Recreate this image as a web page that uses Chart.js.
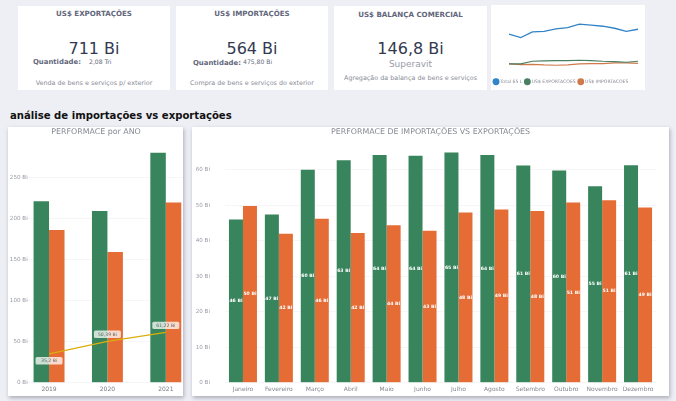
<!DOCTYPE html>
<html>
<head>
<meta charset="utf-8">
<script src="https://cdn.jsdelivr.net/npm/chart.js@4"></script>
<style>
  html, body { margin: 0; padding: 0; }
  body { width: 676px; height: 401px; background: #eeeef5; position: relative; overflow: hidden; font-family: "DejaVu Sans", sans-serif; }
  .card { position: absolute; background: #fff; text-align: center; overflow: hidden; }
  .card div { position: absolute; white-space: nowrap; }
  .kpi-title { left: 0; right: 0; top: 3px; font-size: 7.1px; font-weight: bold; color: #62667a; }
  .kpi-value { left: 0; right: 0; top: 33px; font-size: 16px; color: #333a50; }
  .kpi-qty { top: 52px; font-size: 6.9px; font-weight: bold; color: #62667a; }
  .kpi-qty-val { top: 52px; font-size: 6.1px; color: #666a7c; }
  .kpi-note { left: 0; right: 0; top: 73px; font-size: 6.4px; color: #8a8c98; }
  .kpi-sub { left: 0; right: 0; top: 53px; font-size: 9px; color: #9a9ca6; }
  .shadow { box-shadow: 1px 2px 4px rgba(90,90,110,.45); }
  h2 { position: absolute; left: 10px; top: 110px; margin: 0; font-size: 10.1px; font-weight: bold; color: #111; }
  canvas { position: absolute; }
</style>
</head>
<body>
<div class="card" style="left:18px;top:6px;width:152px;height:84px">
  <div class="kpi-title">US$ EXPORTAÇÕES</div>
  <div class="kpi-value">711 Bi</div>
  <div class="kpi-qty" style="left:15px">Quantidade:</div>
  <div class="kpi-qty-val" style="left:71px">2,08 Tri</div>
  <div class="kpi-note">Venda de bens e serviços p/ exterior</div>
</div>
<div class="card" style="left:176px;top:6px;width:152px;height:84px">
  <div class="kpi-title">US$ IMPORTAÇÕES</div>
  <div class="kpi-value">564 Bi</div>
  <div class="kpi-qty" style="left:17px;top:53px">Quantidade:</div>
  <div class="kpi-qty-val" style="left:67px">475,80 Bi</div>
  <div class="kpi-note">Compra de bens e serviços do exterior</div>
</div>
<div class="card" style="left:334px;top:6px;width:153px;height:84px">
  <div class="kpi-title" style="top:4px">US$ BALANÇA COMERCIAL</div>
  <div class="kpi-value">146,8 Bi</div>
  <div class="kpi-sub">Superavit</div>
  <div class="kpi-note" style="top:68px">Agregação da balança de bens e serviços</div>
</div>
<div class="card" style="left:491px;top:5px;width:154px;height:85px">
  <canvas id="trendChart" style="left:0;top:0"></canvas>
</div>
<h2>análise de importações vs exportações</h2>
<div class="card shadow" style="left:8px;top:127px;width:175px;height:269px">
  <canvas id="yearChart" style="left:-11px;top:0"></canvas>
</div>
<div class="card shadow" style="left:192px;top:127px;width:477px;height:269px">
  <canvas id="monthChart" style="left:0;top:0"></canvas>
</div>
<script>
const GREEN = '#38845c';
const ORANGE = '#e56c35';
const FONT = '"DejaVu Sans", sans-serif';

const years = ['2019', '2020', '2021'];
const yearExports = [221, 209, 280];
const yearImports = [186, 159, 219.5];
const yearBalance = [35.2, 50.39, 61.22];
const yearBalanceLabels = ['35,2 Bi', '50,39 Bi', '61,22 Bi'];

const months = ['Janeiro', 'Fevereiro', 'Março', 'Abril', 'Maio', 'Junho', 'Julho', 'Agosto', 'Setembro', 'Outubro', 'Novembro', 'Dezembro'];
const monthExports = [46.0, 47.4, 60.0, 62.7, 64.2, 64.0, 64.9, 64.2, 61.2, 59.8, 55.4, 61.3];
const monthImports = [49.8, 42.0, 46.2, 42.2, 44.4, 42.8, 48.0, 48.8, 48.4, 50.8, 51.4, 49.4];

const trendTotal = [96, 90.4, 99.9, 101, 105, 107.2, 112.9, 111.2, 109.5, 106.1, 101, 104.4];
const trendExports = [46, 46, 50.5, 51, 51.6, 51.6, 52.2, 51.6, 50.5, 50, 48.8, 50.5];
const trendImports = [46, 44.9, 45.4, 44.3, 43.8, 44.3, 46, 46.6, 46.6, 47.7, 47.7, 47.1];

function sizeCanvas(id, w, h) {
  const c = document.getElementById(id);
  c.width = w; c.height = h;
  c.style.width = w + 'px'; c.style.height = h + 'px';
  return c;
}

// pills over the balance line
const pillLabels = {
  id: 'pillLabels',
  afterDatasetsDraw(chart) {
    const ctx = chart.ctx;
    const pts = chart.getDatasetMeta(2).data;
    const offs = [7, -7, -7];
    ctx.save();
    ctx.font = '4.6px ' + FONT;
    ctx.textAlign = 'center';
    ctx.textBaseline = 'middle';
    pts.forEach((p, i) => {
      const y = p.y + offs[i];
      ctx.fillStyle = 'rgba(255,255,255,.75)';
      ctx.beginPath();
      ctx.roundRect(p.x - 13.5, y - 3.7, 27, 7.4, 1.5);
      ctx.fill();
      ctx.fillStyle = '#5b6a62';
      ctx.fillText(yearBalanceLabels[i], p.x, y);
    });
    ctx.restore();
  }
};

// white value text in the middle of each monthly bar
const barLabels = {
  id: 'barLabels',
  afterDatasetsDraw(chart) {
    const ctx = chart.ctx;
    ctx.save();
    ctx.font = 'bold 4.6px ' + FONT;
    ctx.fillStyle = '#fff';
    ctx.textAlign = 'center';
    ctx.textBaseline = 'middle';
    chart.data.datasets.forEach((ds, d) => {
      chart.getDatasetMeta(d).data.forEach((bar, i) => {
        ctx.fillText(Math.round(ds.data[i]) + ' Bi', bar.x, (bar.y + bar.base) / 2);
      });
    });
    ctx.restore();
  }
};

new Chart(sizeCanvas('yearChart', 198, 269), {
  type: 'bar',
  plugins: [pillLabels],
  data: {
    labels: years,
    datasets: [
      { label: 'US$ EXPORTACOES', data: yearExports, backgroundColor: GREEN, categoryPercentage: 0.53, barPercentage: 1, order: 2 },
      { label: 'US$ IMPORTACOES', data: yearImports, backgroundColor: ORANGE, categoryPercentage: 0.53, barPercentage: 1, order: 2 },
      { type: 'line', label: 'Balança', data: yearBalance, borderColor: '#dcae0c', borderWidth: 1.3, pointRadius: 0, tension: 0, order: 1 }
    ]
  },
  options: {
    responsive: false,
    animation: false,
    plugins: {
      legend: { display: false },
      tooltip: { enabled: false },
      title: { display: true, text: 'PERFORMACE por ANO', color: '#868a94', font: { family: FONT, size: 7.9, weight: 'normal' }, padding: { top: 0, bottom: 8 } }
    },
    scales: {
      x: {
        grid: { display: false, drawTicks: false },
        border: { display: false },
        ticks: { color: '#77797f', font: { family: FONT, size: 6 }, padding: 3 },
        afterFit(s) { s.height = 13.3; }
      },
      y: {
        min: 0, max: 290,
        afterFit(s) { s.width = 22.85; },
        grid: { color: '#f6f6f8', drawTicks: false },
        border: { display: false },
        ticks: { stepSize: 50, includeBounds: false, mirror: true, crossAlign: 'far', padding: -10, color: '#9a9ca6', font: { family: FONT, size: 5.6 }, callback: v => v + ' Bi' }
      }
    }
  }
});

new Chart(sizeCanvas('monthChart', 477, 269), {
  type: 'bar',
  plugins: [barLabels],
  data: {
    labels: months,
    datasets: [
      { label: 'US$ EXPORTACOES', data: monthExports, backgroundColor: GREEN, categoryPercentage: 0.78, barPercentage: 1 },
      { label: 'US$ IMPORTACOES', data: monthImports, backgroundColor: ORANGE, categoryPercentage: 0.78, barPercentage: 1 }
    ]
  },
  options: {
    responsive: false,
    animation: false,
    plugins: {
      legend: { display: false },
      tooltip: { enabled: false },
      title: { display: true, text: 'PERFORMACE DE IMPORTAÇÕES VS EXPORTAÇÕES', color: '#868a94', font: { family: FONT, size: 7.9, weight: 'normal' }, padding: { top: 0, bottom: 5 } }
    },
    scales: {
      x: {
        grid: { display: false, drawTicks: false },
        border: { display: false },
        ticks: { color: '#85878f', font: { family: FONT, size: 6 }, padding: 3, maxRotation: 0, autoSkip: false },
        afterFit(s) { s.height = 13.3; }
      },
      y: {
        min: 0, max: 68,
        afterFit(s) { s.width = 33; },
        grid: { color: '#f6f6f8', drawTicks: false },
        border: { display: false },
        ticks: { stepSize: 10, includeBounds: false, mirror: true, crossAlign: 'far', padding: -29.3, color: '#9a9ca6', font: { family: FONT, size: 5.6 }, callback: v => v + ' Bi' }
      },
      // empty axis, only keeps a margin on the right of the bars
      yEdge: {
        type: 'linear', position: 'right',
        afterFit(s) { s.width = 13; },
        grid: { display: false, drawTicks: false },
        border: { display: false },
        ticks: { display: false }
      }
    }
  }
});

new Chart(sizeCanvas('trendChart', 154, 85), {
  type: 'line',
  data: {
    labels: months,
    datasets: [
      { label: 'Total 65 L', data: trendTotal, borderColor: '#3284c8', backgroundColor: '#3284c8', borderWidth: 1.3 },
      { label: 'US$ EXPORTACOES', data: trendExports, borderColor: '#4b7f62', backgroundColor: '#4b7f62', borderWidth: 1.2 },
      { label: 'US$ IMPORTACOES', data: trendImports, borderColor: '#d07a4c', backgroundColor: '#d07a4c', borderWidth: 1.2 }
    ]
  },
  options: {
    responsive: false,
    animation: false,
    elements: { point: { radius: 0 }, line: { tension: 0 } },
    layout: { padding: { left: 0, right: 7, top: 15, bottom: -4 } },
    plugins: {
      tooltip: { enabled: false },
      legend: {
        position: 'bottom', align: 'start',
        labels: { usePointStyle: true, pointStyle: 'circle', boxWidth: 4, boxHeight: 4, padding: 3, color: '#8a8c98', font: { family: FONT, size: 4.6 } }
      }
    },
    scales: {
      x: { display: false, offset: false },
      y: {
        min: 25, max: 120,
        afterFit(s) { s.width = 18; },
        grid: { display: false, drawTicks: false },
        border: { display: false },
        ticks: { display: false }
      }
    }
  }
});
</script>
</body>
</html>
